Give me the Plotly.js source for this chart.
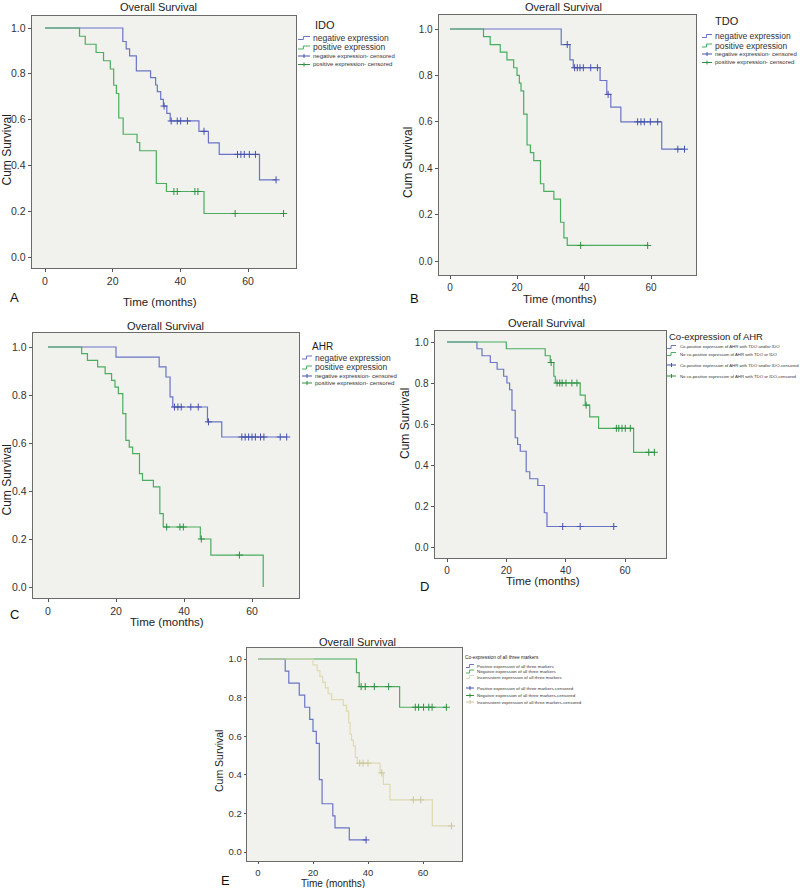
<!DOCTYPE html>
<html><head><meta charset="utf-8">
<script src="https://cdn.plot.ly/plotly-3.0.1.min.js"></script>
<style>html,body{margin:0;padding:0;background:#fff}#chart{width:800px;height:888px}</style>
</head><body><div id="chart"></div>
<script>
// ================= DATA =================
const timeTicks = [0, 20, 40, 60];
const survTicks = [0, 0.2, 0.4, 0.6, 0.8, 1.0];
const panelTitle = "Overall Survival";
const xTitle = "Time (months)";
const yTitle = "Cum Survival";
const panelLetters = ["A", "B", "C", "D", "E"];

// Panel A : IDO
const idoNegTime = [0, 23, 24, 25, 27, 31.2, 32.7, 33.2, 34.2, 35, 36, 37, 45.5, 48.3, 51.5, 63.4, 68.3];
const idoNegSurv = [1, 0.941, 0.909, 0.878, 0.813, 0.783, 0.751, 0.722, 0.688, 0.659, 0.627, 0.594, 0.549, 0.498, 0.448, 0.337, 0.337];
const idoNegCens = [35.2, 37.3, 39.1, 40.1, 42.1, 47.0, 56.9, 57.9, 58.9, 60.4, 62.2, 68.3];
const idoPosTime = [0, 10.2, 11.9, 15.1, 17.3, 19.3, 20.3, 21.1, 21.8, 23.1, 27.2, 28.0, 32.9, 35.9, 47.0, 70.5];
const idoPosSurv = [1, 0.964, 0.929, 0.893, 0.857, 0.821, 0.75, 0.714, 0.607, 0.536, 0.5, 0.464, 0.321, 0.286, 0.19, 0.19];
const idoPosCens = [38.1, 39.1, 44.3, 45.2, 56.2, 70.5];
const idoLegend = ["IDO", "negative expression", "positive expression", "negative expression- censored", "positive expression- censored"];

// Panel B : TDO
const tdoNegTime = [0, 33.2, 35.8, 36.8, 44.8, 46.8, 48.0, 51.0, 63.2, 70];
const tdoNegSurv = [1, 0.933, 0.867, 0.833, 0.778, 0.718, 0.663, 0.6, 0.482, 0.482];
const tdoNegCens = [35.0, 37.2, 38.0, 38.8, 39.8, 42.0, 44.0, 47.2, 56.0, 57.0, 58.0, 59.8, 62.0, 68.0, 70.0];
const tdoPosTime = [0, 10, 12, 15, 17, 19, 20, 20.7, 21.2, 22, 23, 24, 25, 27, 28, 31, 33, 34, 35, 59];
const tdoPosSurv = [1, 0.967, 0.933, 0.9, 0.867, 0.833, 0.8, 0.767, 0.733, 0.633, 0.5, 0.467, 0.433, 0.333, 0.3, 0.267, 0.167, 0.1, 0.067, 0.067];
const tdoPosCens = [39, 59];
const tdoLegend = ["TDO", "negative expression", "positive expression", "negative expression- censored", "positive expression- censored"];

// Panel C : AHR
const ahrNegTime = [0, 20, 32.7, 34.7, 35.9, 36.7, 46.9, 51.1, 70.2];
const ahrNegSurv = [1, 0.958, 0.917, 0.875, 0.792, 0.75, 0.688, 0.625, 0.625];
const ahrNegCens = [37.2, 38.2, 39.2, 42.0, 44.2, 47.2, 57.0, 58.0, 59.0, 60.0, 61.0, 62.5, 63.5, 68.3, 70.2];
const ahrPosTime = [0, 9.9, 11.6, 14.6, 16.8, 18.7, 19.7, 20.7, 22.0, 22.9, 23.9, 24.9, 26.9, 27.8, 31.0, 32.9, 33.9, 44.8, 47.9, 63.3];
const ahrPosSurv = [1, 0.972, 0.944, 0.917, 0.889, 0.861, 0.833, 0.806, 0.722, 0.611, 0.583, 0.556, 0.472, 0.444, 0.417, 0.306, 0.25, 0.2, 0.133, 0];
const ahrPosCens = [34.9, 38.8, 39.8, 45.1, 56.3];
const ahrLegend = ["AHR", "negative expression", "positive expression", "negative expression- censored", "positive expression- censored"];

// Panel D : co-expression of AHR
const coPosTime = [0, 10.1, 11.8, 14.6, 16.9, 19.1, 20.2, 21.1, 21.9, 23.0, 23.8, 24.7, 26.7, 27.9, 30.6, 32.8, 33.7, 56.2];
const coPosSurv = [1, 0.967, 0.933, 0.9, 0.867, 0.833, 0.8, 0.767, 0.667, 0.533, 0.5, 0.467, 0.367, 0.333, 0.3, 0.167, 0.1, 0.1];
const coPosCens = [39.0, 44.9, 56.2];
const coNoTime = [0, 20, 33.1, 34.8, 36.0, 36.5, 44.9, 46.6, 48.1, 51.1, 62.9, 69.9];
const coNoSurv = [1, 0.967, 0.933, 0.9, 0.833, 0.8, 0.741, 0.692, 0.635, 0.579, 0.462, 0.462];
const coNoCens = [35.1, 37.1, 38.0, 38.8, 40.1, 42.1, 43.8, 46.9, 57.1, 57.9, 59.0, 60.1, 61.8, 68.0, 69.9];
const coLegend = ["Co-expression of AHR", "Co-positive expression of AHR with TDO and/or IDO", "No co-positive expression of AHR with TDO or IDO", "Co-positive expression of AHR with TDO and/or IDO-censored", "No co-positive expression of AHR with TDO or IDO-censored"];

// Panel E : co-expression of all three markers
const allPosTime = [0, 9.9, 11.2, 15.0, 17.0, 18.8, 20.0, 21.2, 22.3, 23.3, 27.2, 28.0, 33.2, 39.3];
const allPosSurv = [1, 0.9375, 0.875, 0.8125, 0.75, 0.6875, 0.625, 0.5625, 0.375, 0.25, 0.1875, 0.125, 0.0625, 0.0625];
const allPosCens = [39.3];
const allNegTime = [0, 35.8, 36.8, 51.5, 68.5];
const allNegSurv = [1, 0.929, 0.857, 0.75, 0.75];
const allNegCens = [37.5, 39.0, 42.3, 47.5, 57.2, 58.4, 60.2, 62.1, 63.3, 68.5];
const allMixTime = [0, 20, 21.5, 22.5, 23.5, 24.5, 25.5, 26.8, 31, 32.2, 33, 33.5, 34, 34.7, 35.4, 36.1, 44.4, 45.6, 48, 63.4, 70.4];
const allMixSurv = [1, 0.97, 0.94, 0.91, 0.88, 0.85, 0.82, 0.79, 0.76, 0.73, 0.67, 0.61, 0.58, 0.55, 0.49, 0.46, 0.41, 0.35, 0.27, 0.135, 0.135];
const allMixCens = [37.0, 38.2, 40.0, 45.0, 56.5, 59.2, 70.4];
const allLegend = ["Co-expression of all three markers", "Positive expression of all three markers", "Negative expression of all three markers", "Inconsistent expression of all three markers", "Positive expression of all three markers-censored", "Negative expression of all three markers-censored", "Inconsistent expression of all three markers-censored"];

// ================= STYLE / LAYOUT =================
const W = 800, H = 888;
const fx = x => x / W, fy = y => 1 - y / H;
const FONT = "Liberation Sans, Arial, sans-serif";
const BLUE = "#6b75c6", BLUE_M = "#4753ad";
const GREEN = "#4aae5e", GREEN_M = "#2e9142";
const BEIGE = "#dedab2", BEIGE_M = "#cdc89a";

function stepAt(times, surv, t) {
  let v = surv[0];
  for (let i = 0; i < times.length; i++) if (times[i] <= t) v = surv[i];
  return v;
}

// geometry: box [left,right,top,bottom] px, x-tick px at 0 and 60, y-tick px at 1.0 and 0.0
const panels = [
  { box: [32, 296, 16, 268], x0: 45, x60: 248, y1: 28, y0: 257, tf: 10.5, tl: 3,
    title: [158, 7, 11], ytitle: [6.5, 150, 12], xtitle: [160, 302, 11.5], letter: [8, 297],
    series: [[idoNegTime, idoNegSurv, idoNegCens, BLUE, BLUE_M], [idoPosTime, idoPosSurv, idoPosCens, GREEN, GREEN_M]],
    legend: { labels: idoLegend, hx: 313, hy: 25, hs: 11, rows: [38, 47.5, 56, 64.5], sizes: [8.5, 8.5, 6, 6], sx: [298, 310], tx: 311,
      kinds: ["line", "line", "cens", "cens"], colors: [BLUE, GREEN, BLUE_M, GREEN_M] } },
  { box: [439, 696, 15, 275], x0: 450, x60: 651, y1: 29, y0: 261, tf: 10, tl: 3,
    title: [563, 7, 11], ytitle: [408, 163, 12], xtitle: [560, 299, 11.5], letter: [408, 298],
    series: [[tdoNegTime, tdoNegSurv, tdoNegCens, BLUE, BLUE_M], [tdoPosTime, tdoPosSurv, tdoPosCens, GREEN, GREEN_M]],
    legend: { labels: tdoLegend, hx: 713, hy: 21, hs: 11, rows: [36, 45.5, 54, 62.5], sizes: [8.5, 8.5, 6, 6], sx: [702, 712], tx: 713,
      kinds: ["line", "line", "cens", "cens"], colors: [BLUE, GREEN, BLUE_M, GREEN_M] } },
  { box: [33, 299, 333, 598], x0: 48, x60: 252, y1: 347, y0: 587, tf: 10.5, tl: 3,
    title: [165, 326, 11], ytitle: [6.5, 480, 12], xtitle: [167, 621.5, 11.5], letter: [8, 614],
    series: [[ahrNegTime, ahrNegSurv, ahrNegCens, BLUE, BLUE_M], [ahrPosTime, ahrPosSurv, ahrPosCens, GREEN, GREEN_M]],
    legend: { labels: ahrLegend, hx: 310, hy: 347, hs: 10, rows: [357.5, 367.5, 376, 383], sizes: [8.5, 8.5, 6, 6], sx: [302, 312], tx: 313,
      kinds: ["line", "line", "cens", "cens"], colors: [BLUE, GREEN, BLUE_M, GREEN_M] } },
  { box: [435, 666, 331, 558], x0: 447, x60: 625, y1: 342, y0: 547, tf: 10, tl: 3,
    title: [546, 323, 11], ytitle: [405, 424, 12], xtitle: [543, 581, 11.5], letter: [418, 586],
    series: [[coPosTime, coPosSurv, coPosCens, BLUE, BLUE_M], [coNoTime, coNoSurv, coNoCens, GREEN, GREEN_M]],
    legend: { labels: coLegend, hx: 667, hy: 337, hs: 9.5, rows: [347, 354, 365, 376], sizes: [4.3, 4.3, 4.3, 4.3], sx: [667, 676], tx: 678,
      kinds: ["line", "line", "cens", "cens"], colors: [BLUE, GREEN, BLUE_M, GREEN_M] } },
  { box: [247, 462, 648, 861], x0: 258, x60: 423, y1: 659, y0: 852, tf: 9.5, tl: 2,
    title: [357, 642, 11], ytitle: [219, 761, 10.5], xtitle: [333, 883, 10], letter: [219, 880],
    series: [[allPosTime, allPosSurv, allPosCens, BLUE, BLUE_M], [allNegTime, allNegSurv, allNegCens, GREEN, GREEN_M], [allMixTime, allMixSurv, allMixCens, BEIGE, BEIGE_M]],
    legend: { labels: allLegend, hx: 463, hy: 657, hs: 4.8, rows: [666, 671.5, 677, 688, 695.5, 702], sizes: [4.4, 4.4, 4.4, 4.4, 4.4, 4.4], sx: [466, 474], tx: 475,
      kinds: ["line", "line", "line", "cens", "cens", "cens"], colors: [BLUE, GREEN, BEIGE, BLUE_M, GREEN_M, BEIGE_M] } }
];

const traces = [];
const layout = {
  width: W, height: H, margin: { l: 0, r: 0, t: 0, b: 0 },
  paper_bgcolor: "#ffffff", plot_bgcolor: "#f1f1ee",
  showlegend: false, font: { family: FONT, color: "#222" },
  annotations: [], shapes: []
};

panels.forEach((p, i) => {
  const n = i === 0 ? "" : String(i + 1);
  const xs = (p.x60 - p.x0) / 60, ys = (p.y0 - p.y1);
  const xr = [(p.box[0] - p.x0) / xs, (p.box[1] - p.x0) / xs];
  const yr = [(p.y0 - p.box[3]) / ys, (p.y0 - p.box[2]) / ys];
  const axCommon = {
    showgrid: false, zeroline: false, showline: true, mirror: true,
    linecolor: "#6b6b6b", linewidth: 1.4, ticks: "outside", ticklen: p.tl, tickwidth: 1, tickcolor: "#555",
    tickfont: { family: FONT, size: p.tf, color: "#333" }, fixedrange: true
  };
  layout["xaxis" + n] = Object.assign({}, axCommon, {
    domain: [fx(p.box[0]), fx(p.box[1])], range: xr, anchor: "y" + n,
    tickmode: "array", tickvals: timeTicks, ticktext: timeTicks.map(String)
  });
  layout["yaxis" + n] = Object.assign({}, axCommon, {
    domain: [fy(p.box[3]), fy(p.box[2])], range: yr, anchor: "x" + n,
    tickmode: "array", tickvals: survTicks, ticktext: survTicks.map(v => v.toFixed(1))
  });
  p.series.forEach(s => {
    const [t, sv, c, col, mcol] = s;
    traces.push({ x: t, y: sv, type: "scatter", mode: "lines", line: { shape: "hv", color: col, width: 1.2 },
      xaxis: "x" + n, yaxis: "y" + n, hoverinfo: "skip" });
    traces.push({ x: c, y: c.map(tt => stepAt(t, sv, tt)), type: "scatter", mode: "markers",
      marker: { symbol: "cross-thin", size: 5, color: mcol, line: { color: mcol, width: 1 } },
      xaxis: "x" + n, yaxis: "y" + n, hoverinfo: "skip" });
  });
  const A = layout.annotations;
  A.push({ text: panelTitle, x: fx(p.title[0]), y: fy(p.title[1]), xref: "paper", yref: "paper", showarrow: false,
    xanchor: "center", yanchor: "middle", font: { size: p.title[2], family: FONT, color: "#222" } });
  A.push({ text: yTitle, x: fx(p.ytitle[0]), y: fy(p.ytitle[1]), xref: "paper", yref: "paper", showarrow: false,
    textangle: -90, xanchor: "center", yanchor: "middle", font: { size: p.ytitle[2], family: FONT, color: "#222" } });
  A.push({ text: xTitle, x: fx(p.xtitle[0]), y: fy(p.xtitle[1]), xref: "paper", yref: "paper", showarrow: false,
    xanchor: "center", yanchor: "middle", font: { size: p.xtitle[2], family: FONT, color: "#222" } });
  A.push({ text: panelLetters[i], x: fx(p.letter[0]), y: fy(p.letter[1]), xref: "paper", yref: "paper", showarrow: false,
    xanchor: "left", yanchor: "middle", font: { size: 13, family: FONT, color: "#111" } });
  // legend
  const L = p.legend;
  A.push({ text: L.labels[0], x: fx(L.hx), y: fy(L.hy), xref: "paper", yref: "paper", showarrow: false,
    xanchor: "left", yanchor: "middle", font: { size: L.hs, family: FONT, color: "#222" } });
  L.rows.forEach((ry, k) => {
    A.push({ text: L.labels[k + 1], x: fx(L.tx), y: fy(ry), xref: "paper", yref: "paper", showarrow: false,
      xanchor: "left", yanchor: "middle", font: { size: L.sizes[k], family: FONT, color: "#333" } });
    const [a, b] = L.sx, col = L.colors[k];
    if (L.kinds[k] === "line") {
      const m = a + (b - a) * 0.45;
      layout.shapes.push({ type: "path", xref: "paper", yref: "paper",
        path: `M ${fx(a)},${fy(ry + 1.5)} L ${fx(m)},${fy(ry + 1.5)} L ${fx(m)},${fy(ry - 1.5)} L ${fx(b)},${fy(ry - 1.5)}`,
        line: { color: col, width: 1 } });
    } else {
      const m = (a + b) / 2;
      layout.shapes.push({ type: "line", xref: "paper", yref: "paper", x0: fx(a), x1: fx(b), y0: fy(ry), y1: fy(ry), line: { color: col, width: 1 } });
      layout.shapes.push({ type: "line", xref: "paper", yref: "paper", x0: fx(m), x1: fx(m), y0: fy(ry - 2), y1: fy(ry + 2), line: { color: col, width: 1 } });
    }
  });
});

Plotly.newPlot("chart", traces, layout, { staticPlot: true, displayModeBar: false });
</script></body></html>
